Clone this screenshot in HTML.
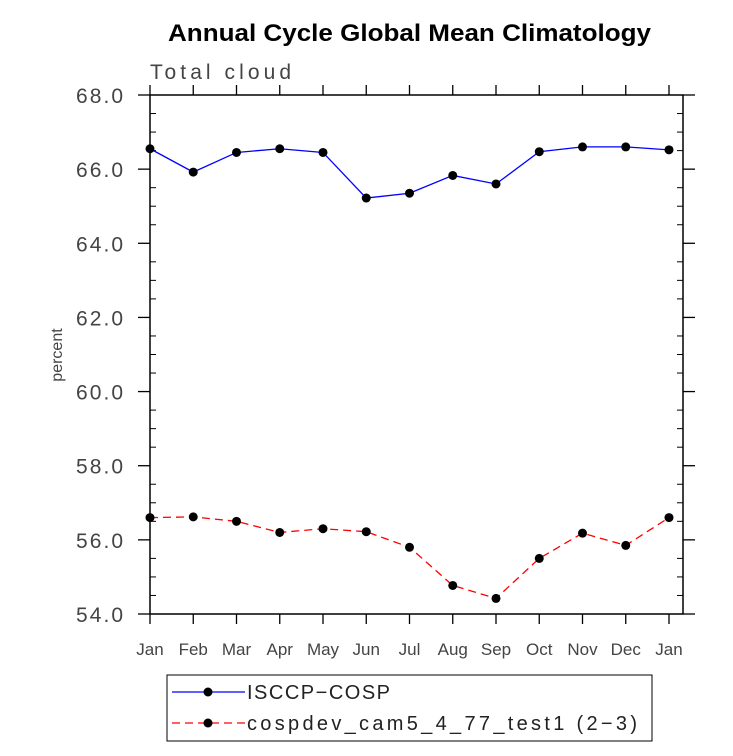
<!DOCTYPE html>
<html><head><meta charset="utf-8"><style>
body{margin:0;background:#fff;width:733px;height:751px;overflow:hidden}
text{font-family:"Liberation Sans",sans-serif}
</style></head><body>
<svg id="chart" width="733" height="751" xmlns="http://www.w3.org/2000/svg">
<text x="168" y="41" font-size="24" font-weight="bold" textLength="483" lengthAdjust="spacingAndGlyphs">Annual Cycle Global Mean Climatology</text>
<text x="150" y="79" font-size="21" fill="#444" textLength="141" lengthAdjust="spacing">Total cloud</text>
<text transform="translate(62,355) rotate(-90)" text-anchor="middle" font-size="16" fill="#444">percent</text>
<g id="axes"></g><g id="series"></g>
<g>
<rect x="167" y="675" width="485" height="66" fill="none" stroke="#000"/>
<line x1="172" y1="692" x2="245" y2="692" stroke="#00f" stroke-width="1.3"/>
<circle cx="208" cy="692" r="4.5"/>
<text x="247" y="699" font-size="20" fill="#222" textLength="143" lengthAdjust="spacing">ISCCP−COSP</text>
<line x1="172" y1="723" x2="245" y2="723" stroke="#f00" stroke-width="1.3" stroke-dasharray="8,5"/>
<circle cx="208" cy="723" r="4.5"/>
<text x="247" y="730" font-size="20" fill="#222" textLength="390" lengthAdjust="spacing">cospdev_cam5_4_77_test1 (2−3)</text>
</g>
</svg>
<script>
const months=["Jan","Feb","Mar","Apr","May","Jun","Jul","Aug","Sep","Oct","Nov","Dec","Jan"];
const isccp=[66.55,65.92,66.45,66.55,66.45,65.22,65.35,65.83,65.6,66.47,66.6,66.6,66.52];
const cospdev=[56.6,56.62,56.5,56.2,56.3,56.22,55.8,54.77,54.42,55.5,56.18,55.85,56.6];
const yTicks=[54,56,58,60,62,64,66,68];
const NS="http://www.w3.org/2000/svg";
const L=150,R=683,T=95,B=614,ymin=54,ymax=68;
const x=i=>150+i*(669-150)/12;
const y=v=>B-(v-ymin)/(ymax-ymin)*(B-T);
function mk(tag,at,parent){const e=document.createElementNS(NS,tag);for(const k in at)e.setAttribute(k,at[k]);parent.appendChild(e);return e;}
const ax=document.getElementById('axes'),se=document.getElementById('series');
const box=mk('rect',{x:L,y:T,width:R-L,height:B-T,fill:'none',stroke:'#000','stroke-width':1.5},ax);


for(let v=ymin;v<=ymax+1e-9;v+=0.5){
  const major=Math.abs(v-Math.round(v/2)*2)<1e-9;
  const yy=y(v);
  if(major){mk('line',{x1:L-12,y1:yy,x2:L,y2:yy,stroke:'#000','stroke-width':1.3},ax);mk('line',{x1:R,y1:yy,x2:R+12,y2:yy,stroke:'#000','stroke-width':1.3},ax);}
  else{mk('line',{x1:L,y1:yy,x2:L+6,y2:yy,stroke:'#000'},ax);mk('line',{x1:R-6,y1:yy,x2:R,y2:yy,stroke:'#000'},ax);}
}
yTicks.forEach(v=>{const t=mk('text',{x:L-27,y:y(v)+8,'text-anchor':'end','font-size':21,fill:'#444',textLength:47,lengthAdjust:'spacing'},ax);t.textContent=v.toFixed(1);

});
months.forEach((m,i)=>{const xx=x(i);
  mk('line',{x1:xx,y1:T-10,x2:xx,y2:T,stroke:'#000','stroke-width':1.3},ax);
  mk('line',{x1:xx,y1:B,x2:xx,y2:B+10,stroke:'#000','stroke-width':1.3},ax);
  const t=mk('text',{x:xx,y:B+41,'text-anchor':'middle','font-size':17,fill:'#444'},ax);t.textContent=m;
  
  });
function series(vals,color,dash,name){
  const p=mk('polyline',{points:vals.map((v,i)=>x(i)+','+y(v)).join(' '),fill:'none',stroke:color,'stroke-width':1.3,'stroke-dasharray':dash},se);
  
  
  vals.forEach((v,i)=>{const c=mk('circle',{cx:x(i),cy:y(v),r:4.5,fill:'#000'},se);
    
    });
}
series(isccp,'#00f','none','isccp');
series(cospdev,'#f00','8,5','cospdev');
</script>
</body></html>
